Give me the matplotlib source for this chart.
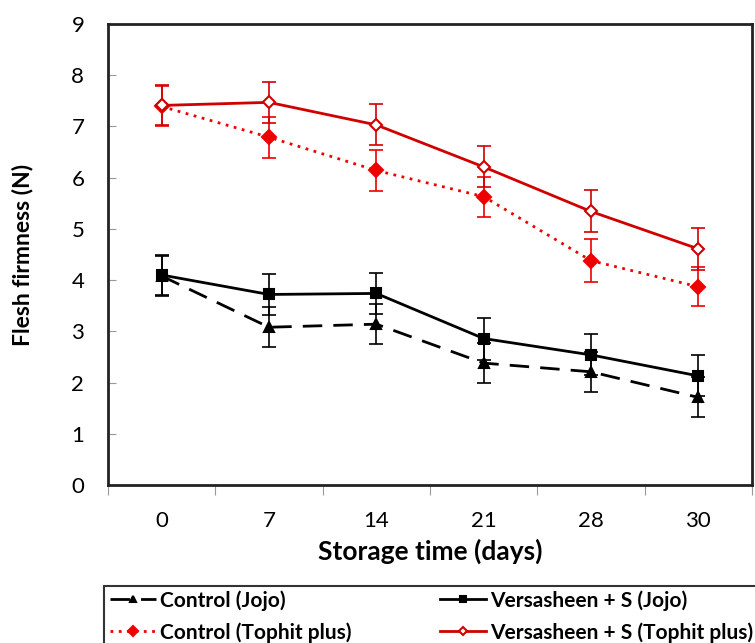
import matplotlib.pyplot as plt
from matplotlib.patches import Rectangle

# Storage days and firmness readings (N)
days = ['0', '7', '14', '21', '28', '30']
control_jojo = [4.08, 3.08, 3.14, 2.38, 2.21, 1.71]
versa_jojo = [4.10, 3.72, 3.74, 2.86, 2.54, 2.13]
control_tophit = [7.39, 6.79, 6.14, 5.63, 4.38, 3.87]
versa_tophit = [7.41, 7.47, 7.03, 6.21, 5.34, 4.61]
err_control_jojo = [0.39, 0.39, 0.39, 0.39, 0.39, 0.39]
err_versa_jojo = [0.39, 0.40, 0.40, 0.41, 0.40, 0.40]
err_control_tophit = [0.39, 0.40, 0.40, 0.39, 0.42, 0.38]
err_versa_tophit = [0.39, 0.40, 0.40, 0.40, 0.41, 0.41]

plt.rcParams['font.family'] = ['Lato', 'DejaVu Sans']

fig = plt.figure(figsize=(7.55, 6.43), dpi=100)
ax = fig.add_axes([0.143, 0.2457, 0.853, 0.717])

x = list(range(len(days)))

series = [
    (control_jojo, err_control_jojo, 'Control (Jojo)', 'black', (0, (7, 4)), '^', 'black', 7),
    (versa_jojo, err_versa_jojo, 'Versasheen + S (Jojo)', 'black', '-', 's', 'black', 7),
    (control_tophit, err_control_tophit, 'Control (Tophit plus)', '#ee0000', (0, (1, 2)), 'D', '#ee0000', 7.5),
    (versa_tophit, err_versa_tophit, 'Versasheen + S (Tophit plus)', '#d00000', '-', 'D', 'white', 6.5),
]

handles = []
for vals, errs, label, color, ls, marker, mfc, ms in series:
    ax.errorbar(x, vals, yerr=errs, fmt='none', ecolor=color, elinewidth=1.2,
                capsize=5, capthick=1.2, zorder=2)
    line, = ax.plot(x, vals, color=color, linestyle=ls, linewidth=2, marker=marker,
                    markersize=ms, markerfacecolor=mfc, markeredgecolor=color,
                    markeredgewidth=1.5, label=label, zorder=3)
    handles.append(line)

ax.set_xlim(-0.5, len(days) - 0.5)
ax.set_ylim(0, 9)
ax.set_yticks(range(0, 10))
ax.tick_params(axis='y', direction='in', length=6, color='#999999', labelsize=16, pad=17)

# category labels in the centre, tick marks on the boundaries
ax.set_xticks([i - 0.5 for i in range(len(days) + 1)])
ax.set_xticklabels([])
ax.tick_params(axis='x', which='major', direction='out', length=7, color='#999999')
ax.set_xticks(x, minor=True)
ax.set_xticklabels(days, minor=True)
ax.tick_params(axis='x', which='minor', length=0, labelsize=16, pad=19)

for s in ax.spines.values():
    s.set_linewidth(2)
    s.set_color('#222222')

ax.set_xlabel('Storage time (days)', fontsize=19, fontweight='bold', labelpad=5)
ax.set_ylabel('Flesh firmness (N)', fontsize=16.5, fontweight='bold', labelpad=27)

# legend box below the plot, two columns placed separately
fig.patches.append(Rectangle((104 / 755, -0.05), 0.9, 0.05 + 57 / 643,
                             transform=fig.transFigure, fill=False,
                             edgecolor='#333333', linewidth=1.5))
leg_kw = dict(loc='upper left', frameon=False, handlelength=2.2, handletextpad=0.2,
              labelspacing=0.55, borderaxespad=0, borderpad=0, markerscale=0.7,
              prop={'weight': 'bold', 'size': 15})
fig.legend([handles[0], handles[2]], [handles[0].get_label(), handles[2].get_label()],
           bbox_to_anchor=(110 / 755, 1 - 590 / 643), **leg_kw)
fig.legend([handles[1], handles[3]], [handles[1].get_label(), handles[3].get_label()],
           bbox_to_anchor=(440 / 755, 1 - 590 / 643), **leg_kw)

fig.savefig('out.png', dpi=100)
